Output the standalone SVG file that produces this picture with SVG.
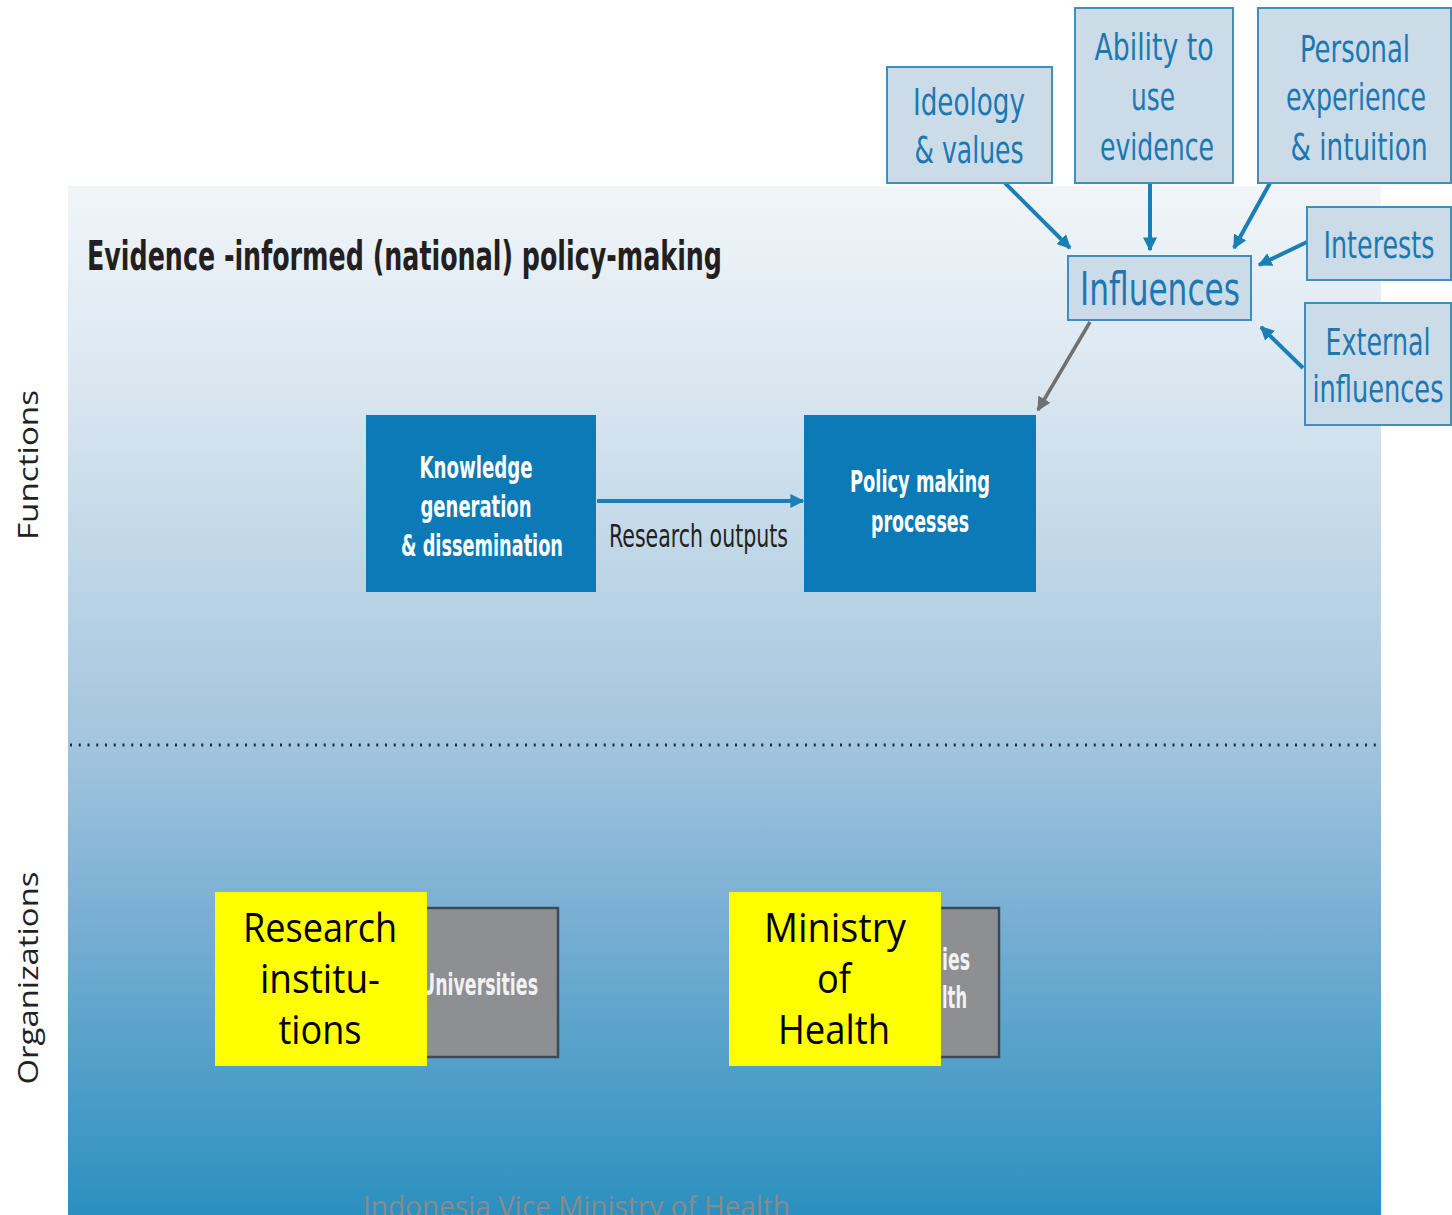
<svg xmlns="http://www.w3.org/2000/svg" width="1452" height="1215" viewBox="0 0 1452 1215">
<defs>
<linearGradient id="bg" x1="0" y1="186" x2="0" y2="1215" gradientUnits="userSpaceOnUse">
<stop offset="0" stop-color="#f1f5f9"/>
<stop offset="0.2" stop-color="#d9e6f0"/>
<stop offset="0.54" stop-color="#a3c5de"/>
<stop offset="0.7" stop-color="#7cb0d4"/>
<stop offset="1" stop-color="#2b90bf"/>
</linearGradient>
<marker id="ab" viewBox="0 0 10 10" refX="9" refY="5" markerWidth="14" markerHeight="14" markerUnits="userSpaceOnUse" orient="auto">
<path d="M0,0 L10,5 L0,10 z" fill="#1b7fb6"/>
</marker>
<marker id="ag" viewBox="0 0 10 10" refX="9" refY="5" markerWidth="14" markerHeight="14" markerUnits="userSpaceOnUse" orient="auto">
<path d="M0,0 L10,5 L0,10 z" fill="#707070"/>
</marker>
<style>
.cond{font-family:"Liberation Sans Narrow","DejaVu Sans Condensed","Liberation Sans",sans-serif;}
.ib{fill:#cbdbe8;stroke:#3f8fbe;stroke-width:2;}
.it{fill:#1b78b2;font-size:38px;text-anchor:middle;}
.bb{fill:#0b7ab7;}
.bt{fill:#ffffff;font-size:30px;font-weight:bold;text-anchor:middle;}
.gb{fill:#8e8f93;stroke:#3c4a58;stroke-width:2.5;}
.gt{fill:#f2f2f2;font-size:30px;font-weight:bold;}
.yb{fill:#ffff00;}
.yt{fill:#000000;font-family:"Open Sans","Liberation Sans",sans-serif;font-size:40px;text-anchor:middle;}
.side{fill:#222;font-family:"Open Sans","Liberation Sans",sans-serif;font-size:28px;text-anchor:middle;}
.conn{stroke:#1b7fb6;stroke-width:4;fill:none;}
</style>
</defs>
<rect x="0" y="0" width="1452" height="1215" fill="#ffffff"/>
<rect x="68" y="186" width="1313" height="1029" fill="url(#bg)"/>
<text class="cond" x="87" y="270" font-size="40" font-weight="bold" fill="#231f20" textLength="635" lengthAdjust="spacingAndGlyphs">Evidence -informed (national) policy-making</text>
<line x1="70" y1="745" x2="1381" y2="745" stroke="#1e2a36" stroke-width="3" stroke-dasharray="2 6.75"/>
<text class="side" transform="translate(38,465) rotate(-90)" textLength="150" lengthAdjust="spacingAndGlyphs">Functions</text>
<text class="side" transform="translate(38,978) rotate(-90)" textLength="213" lengthAdjust="spacingAndGlyphs">Organizations</text>

<g id="connectors">
<line class="conn" x1="1005" y1="183" x2="1070" y2="248" marker-end="url(#ab)"/>
<line class="conn" x1="1150" y1="183" x2="1150" y2="250" marker-end="url(#ab)"/>
<line class="conn" x1="1270" y1="183" x2="1234" y2="248" marker-end="url(#ab)"/>
<line class="conn" x1="1307" y1="242" x2="1259" y2="265" marker-end="url(#ab)"/>
<line class="conn" x1="1303" y1="368" x2="1261" y2="327" marker-end="url(#ab)"/>
<line x1="1090" y1="322" x2="1038" y2="410" stroke="#707070" stroke-width="3.5" marker-end="url(#ag)"/>
<line class="conn" x1="597" y1="501" x2="803" y2="501" marker-end="url(#ab)"/>
</g>

<g id="ideology">
<rect class="ib" x="887" y="67" width="165" height="116"/>
<text class="cond it" x="969" y="115" textLength="112" lengthAdjust="spacingAndGlyphs">Ideology</text>
<text class="cond it" x="969" y="163" textLength="109" lengthAdjust="spacingAndGlyphs">&amp; values</text>
</g>
<g id="ability">
<rect class="ib" x="1075" y="8" width="158" height="175"/>
<text class="cond it" x="1154" y="60" textLength="119" lengthAdjust="spacingAndGlyphs">Ability to</text>
<text class="cond it" x="1153" y="110" textLength="44" lengthAdjust="spacingAndGlyphs">use</text>
<text class="cond it" x="1157" y="160" textLength="114" lengthAdjust="spacingAndGlyphs">evidence</text>
</g>
<g id="personal">
<rect class="ib" x="1258" y="8" width="193" height="175"/>
<text class="cond it" x="1355" y="62" textLength="110" lengthAdjust="spacingAndGlyphs">Personal</text>
<text class="cond it" x="1356" y="110" textLength="140" lengthAdjust="spacingAndGlyphs">experience</text>
<text class="cond it" x="1359" y="160" textLength="137" lengthAdjust="spacingAndGlyphs">&amp; intuition</text>
</g>
<g id="interests">
<rect class="ib" x="1307" y="207" width="144" height="73"/>
<text class="cond it" x="1379" y="258" textLength="111" lengthAdjust="spacingAndGlyphs">Interests</text>
</g>
<g id="external">
<rect class="ib" x="1305" y="303" width="146" height="122"/>
<text class="cond it" x="1378" y="355" textLength="105" lengthAdjust="spacingAndGlyphs">External</text>
<text class="cond it" x="1378" y="402" textLength="131" lengthAdjust="spacingAndGlyphs">influences</text>
</g>
<g id="influences">
<rect class="ib" x="1068" y="256" width="183" height="64"/>
<text class="cond it" x="1160" y="305" style="font-size:46px" textLength="160" lengthAdjust="spacingAndGlyphs">Influences</text>
</g>

<g id="knowledge">
<rect class="bb" x="366" y="415" width="230" height="177"/>
<text class="cond bt" x="476" y="478" textLength="113" lengthAdjust="spacingAndGlyphs">Knowledge</text>
<text class="cond bt" x="476" y="517" textLength="111" lengthAdjust="spacingAndGlyphs">generation</text>
<text class="cond bt" x="482" y="556" textLength="162" lengthAdjust="spacingAndGlyphs">&amp; dissemination</text>
</g>
<g id="policy">
<rect class="bb" x="804" y="415" width="232" height="177"/>
<text class="cond bt" x="920" y="492" textLength="140" lengthAdjust="spacingAndGlyphs">Policy making</text>
<text class="cond bt" x="920" y="532" textLength="98" lengthAdjust="spacingAndGlyphs">processes</text>
</g>
<text class="cond" x="609" y="547" font-size="32" fill="#231f20" textLength="179" lengthAdjust="spacingAndGlyphs">Research outputs</text>

<g id="universities">
<rect class="gb" x="330" y="908" width="228" height="149"/>
<text class="cond gt" x="421" y="995" textLength="117" lengthAdjust="spacingAndGlyphs">Universities</text>
</g>
<g id="research-institutions">
<rect class="yb" x="215" y="892" width="212" height="174"/>
<text class="yt" x="320" y="942" textLength="154" lengthAdjust="spacingAndGlyphs">Research</text>
<text class="yt" x="320" y="993" textLength="120" lengthAdjust="spacingAndGlyphs">institu-</text>
<text class="yt" x="320" y="1044" textLength="83" lengthAdjust="spacingAndGlyphs">tions</text>
</g>
<g id="ministries">
<rect class="gb" x="840" y="908" width="159" height="149"/>
<text class="cond gt" x="942" y="970" textLength="28" lengthAdjust="spacingAndGlyphs">ies</text>
<text class="cond gt" x="942" y="1008" textLength="25" lengthAdjust="spacingAndGlyphs">lth</text>
</g>
<g id="ministry-of-health">
<rect class="yb" x="729" y="892" width="212" height="174"/>
<text class="yt" x="835" y="942" textLength="142" lengthAdjust="spacingAndGlyphs">Ministry</text>
<text class="yt" x="834" y="993" textLength="34" lengthAdjust="spacingAndGlyphs">of</text>
<text class="yt" x="834" y="1044" textLength="112" lengthAdjust="spacingAndGlyphs">Health</text>
</g>
<text x="363" y="1217" font-family="Open Sans, Liberation Sans, sans-serif" font-size="30" fill="#8a8a8a" textLength="427" lengthAdjust="spacingAndGlyphs">Indonesia Vice Ministry of Health</text>
</svg>
